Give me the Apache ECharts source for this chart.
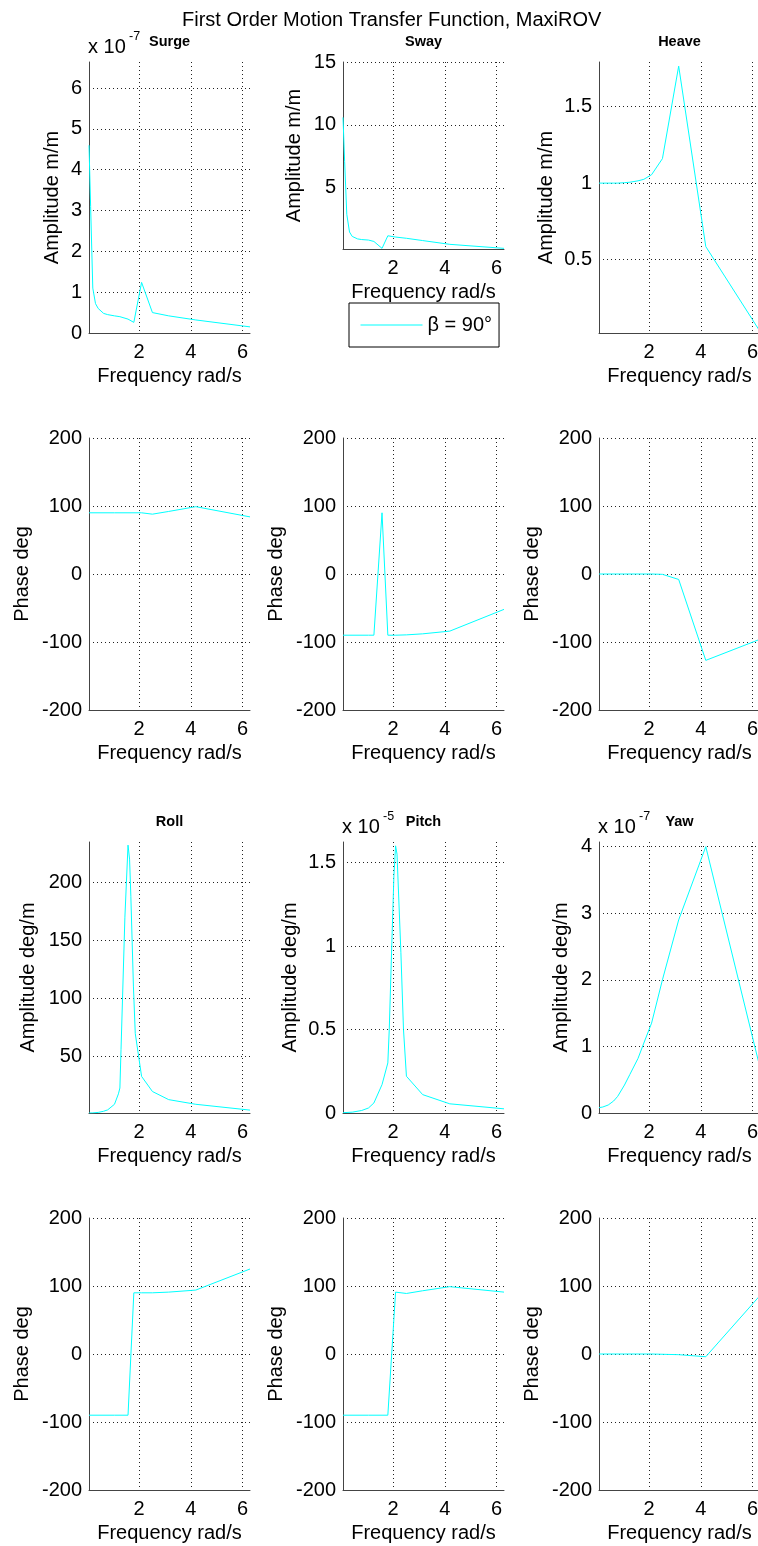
<!DOCTYPE html>
<html>
<head>
<meta charset="utf-8">
<script src="https://cdn.jsdelivr.net/npm/echarts@6/dist/echarts.min.js"></script>
<style>
html,body{margin:0;padding:0;background:#fff;}
#chart{width:758px;height:1546px;}
</style>
</head>
<body>
<div id="chart"></div>
<script>
// ---------- data (frequency rad/s, value) ----------
const mainTitle = 'First Order Motion Transfer Function, MaxiROV';
const legendName = 'β = 90°';
const xTickValues = [2, 4, 6];
const freqRange = [0.0628, 6.2832];

// Amplitudes
const surgeAmp = [[0.0628,4.6],[0.1257,3.1],[0.2094,1.1],[0.3142,0.72],[0.4189,0.6],[0.6283,0.48],[0.7854,0.45],[1.0472,0.42],[1.2566,0.4],[1.5708,0.34],[1.7952,0.26],[2.0944,1.24],[2.5133,0.5],[3.1416,0.42],[4.1888,0.32],[6.2832,0.15]]; // x 1e-7
const swayAmp = [[0.0628,10.6],[0.1257,7.1],[0.2094,2.9],[0.3142,1.5],[0.4189,1.15],[0.6283,0.95],[0.7854,0.9],[1.0472,0.86],[1.2566,0.75],[1.5708,0.2],[1.7952,1.2],[2.0944,1.1],[2.5133,1.0],[3.1416,0.82],[4.1888,0.52],[6.2832,0.2]];
const heaveAmp = [[0.0628,1.0],[0.2094,1.0],[0.4189,1.0],[0.6283,1.0],[0.7854,1.0],[1.0472,1.003],[1.2566,1.006],[1.5708,1.015],[1.7952,1.025],[2.0944,1.055],[2.5133,1.16],[3.1416,1.765],[4.1888,0.585],[6.2832,0.03]];
const rollAmp = [[0.0628,1.5],[0.2094,1.6],[0.4189,2.0],[0.6283,3.0],[0.7854,4.2],[1.0472,9],[1.2,18],[1.2566,23],[1.3,56],[1.45,170],[1.5708,232],[1.63,220],[1.68,188],[1.78,110],[1.85,70],[2.0944,33],[2.5133,20],[3.1416,13],[4.1888,9],[6.2832,4]];
const pitchAmp = [[0.0628,0.002],[0.4189,0.005],[0.7854,0.015],[1.0472,0.03],[1.2566,0.06],[1.5708,0.17],[1.7952,0.3],[1.85,0.5],[1.95,1.02],[2.03,1.42],[2.0944,1.6],[2.15,1.55],[2.3,0.96],[2.4,0.5],[2.5133,0.22],[3.1416,0.11],[4.1888,0.055],[6.2832,0.025]]; // x 1e-5
const yawAmp = [[0.0628,0.08],[0.2094,0.09],[0.4189,0.12],[0.6283,0.18],[0.7854,0.25],[1.0472,0.42],[1.2566,0.58],[1.5708,0.82],[1.7952,1.05],[2.0944,1.35],[2.5133,2.0],[3.1416,2.9],[4.1888,4.0],[6.2832,0.68]]; // x 1e-7

// Phases (deg)
const surgePhase = [[0.0628,90],[1.0472,90],[2.0944,90],[2.5133,88],[3.1416,92],[4.1888,99],[6.2832,84]];
const swayPhase = [[0.0628,-90],[1.0472,-90],[1.2566,-90],[1.5708,90],[1.7952,-90],[2.0944,-90],[2.5133,-89.5],[3.1416,-88],[4.1888,-84],[6.2832,-52]];
const heavePhase = [[0.0628,0],[1.0472,0],[2.0944,0],[2.5133,-0.5],[3.1416,-8],[4.1888,-127],[6.2832,-96]];
const rollPhase = [[0.0628,-90],[1.0472,-90],[1.5708,-90],[1.7952,90],[2.0944,90],[2.5133,90],[3.1416,91],[4.1888,94],[6.2832,125]];
const pitchPhase = [[0.0628,-90],[1.0472,-90],[1.7952,-90],[2.0944,91],[2.5133,89],[3.1416,93],[4.1888,99],[6.2832,91]];
const yawPhase = [[0.0628,0],[1.0472,0],[2.0944,0],[3.1416,-1],[4.1888,-4],[6.2832,86]];

const phaseTicks = [-200, -100, 0, 100, 200];

// ---------- layout ----------
const FONT = '"Liberation Sans", Arial, Helvetica, sans-serif';
const FS = 20;
const colLeft = [89, 343, 599];
const plotW = 161;

const panels = [
  {name:'Surge', data:surgeAmp, col:0, top:62, h:271, min:0, max:6.64, ticks:[0,1,2,3,4,5,6], yname:'Amplitude m/m', gap:27, exp:'-7'},
  {name:'Sway', data:swayAmp, col:1, top:62, h:187, min:0.15, max:15, ticks:[5,10,15], yname:'Amplitude m/m', gap:38.5},
  {name:'Heave', data:heaveAmp, col:2, top:62, h:271, min:0.02, max:1.792, ticks:[0.5,1,1.5], yname:'Amplitude m/m', gap:43},
  {data:surgePhase, col:0, top:438, h:272, min:-200, max:200, ticks:phaseTicks, yname:'Phase deg', gap:57},
  {data:swayPhase, col:1, top:438, h:272, min:-200, max:200, ticks:phaseTicks, yname:'Phase deg', gap:56.5},
  {data:heavePhase, col:2, top:438, h:272, min:-200, max:200, ticks:phaseTicks, yname:'Phase deg', gap:57},
  {name:'Roll', data:rollAmp, col:0, top:842, h:271, min:1.5, max:234.7, ticks:[50,100,150,200], yname:'Amplitude deg/m', gap:51},
  {name:'Pitch', data:pitchAmp, col:1, top:842, h:271, min:0, max:1.623, ticks:[0,0.5,1,1.5], yname:'Amplitude deg/m', gap:43, exp:'-5'},
  {name:'Yaw', data:yawAmp, col:2, top:842, h:271, min:0, max:4.07, ticks:[0,1,2,3,4], yname:'Amplitude deg/m', gap:28, exp:'-7'},
  {data:rollPhase, col:0, top:1218, h:272, min:-200, max:200, ticks:phaseTicks, yname:'Phase deg', gap:57},
  {data:pitchPhase, col:1, top:1218, h:272, min:-200, max:200, ticks:phaseTicks, yname:'Phase deg', gap:56.5},
  {data:yawPhase, col:2, top:1218, h:272, min:-200, max:200, ticks:phaseTicks, yname:'Phase deg', gap:57}
];

const gridLine = {show:true, lineStyle:{color:'#222', width:1, type:[1,3]}};
const axisLineStyle = {show:true, onZero:false, lineStyle:{color:'#444', width:1}};
const txt = (size, weight) => ({fontFamily:FONT, fontSize:size, fontWeight:weight || 'normal', color:'#000', lineHeight:size});

const grids = [], xAxes = [], yAxes = [], series = [], titles = [];

titles.push({text: mainTitle, left: 182, top: 10.5, padding: 0, textStyle: txt(FS)});

panels.forEach((p, i) => {
  const left = colLeft[p.col];
  grids.push({left:left, top:p.top, width:plotW, height:p.h, containLabel:false, outerBoundsMode:'none'});
  xAxes.push({
    type:'value', gridIndex:i, min:freqRange[0], max:freqRange[1],
    axisLine:axisLineStyle, axisTick:{show:false, customValues:xTickValues},
    axisLabel:Object.assign({show:true, customValues:xTickValues, margin:9}, txt(FS)),
    splitLine:gridLine,
    name:'Frequency rad/s', nameLocation:'middle', nameGap:33.5, nameMoveOverlap:false,
    nameTextStyle:txt(FS)
  });
  yAxes.push({
    type:'value', gridIndex:i, min:p.min, max:p.max,
    axisLine:axisLineStyle, axisTick:{show:false, customValues:p.ticks},
    axisLabel:Object.assign({show:true, customValues:p.ticks, margin:7}, txt(FS)),
    splitLine:gridLine,
    name:p.yname, nameLocation:'middle', nameGap:p.gap, nameMoveOverlap:false,
    nameTextStyle:txt(FS)
  });
  series.push({
    name: legendName, type:'line', xAxisIndex:i, yAxisIndex:i, data:p.data,
    symbol:'none', showSymbol:false, clip:true, animation:false,
    lineStyle:{color:'#00FFFF', width:1}, itemStyle:{color:'#00FFFF'}
  });
  if (p.name) {
    titles.push({text:p.name, left: left + plotW/2, textAlign:'center', top: p.top - 27, padding:0,
      textStyle: txt(14.5, 'bold')});
  }
  if (p.exp) {
    titles.push({text:'x 10', left:left - 1, top:p.top - 24.6, padding:0, textStyle: txt(FS)});
    titles.push({text:p.exp, left:left + 40, top:p.top - 31.5, padding:0, textStyle: txt(12.5)});
  }
});

const chart = echarts.init(document.getElementById('chart'), null, {renderer:'canvas'});
chart.setOption({
  backgroundColor:'#fff',
  animation:false,
  title: titles,
  legend:{
    show:true, left:349, top:303, orient:'horizontal',
    padding:[12, 7, 12, 11], itemWidth:62, itemHeight:4,
    itemStyle:{opacity:0},
    lineStyle:{color:'#00FFFF', width:1},
    borderColor:'#000', borderWidth:1, backgroundColor:'#fff',
    textStyle: txt(FS),
    data:[legendName]
  },
  grid: grids,
  xAxis: xAxes,
  yAxis: yAxes,
  series: series
});
</script>
</body>
</html>
